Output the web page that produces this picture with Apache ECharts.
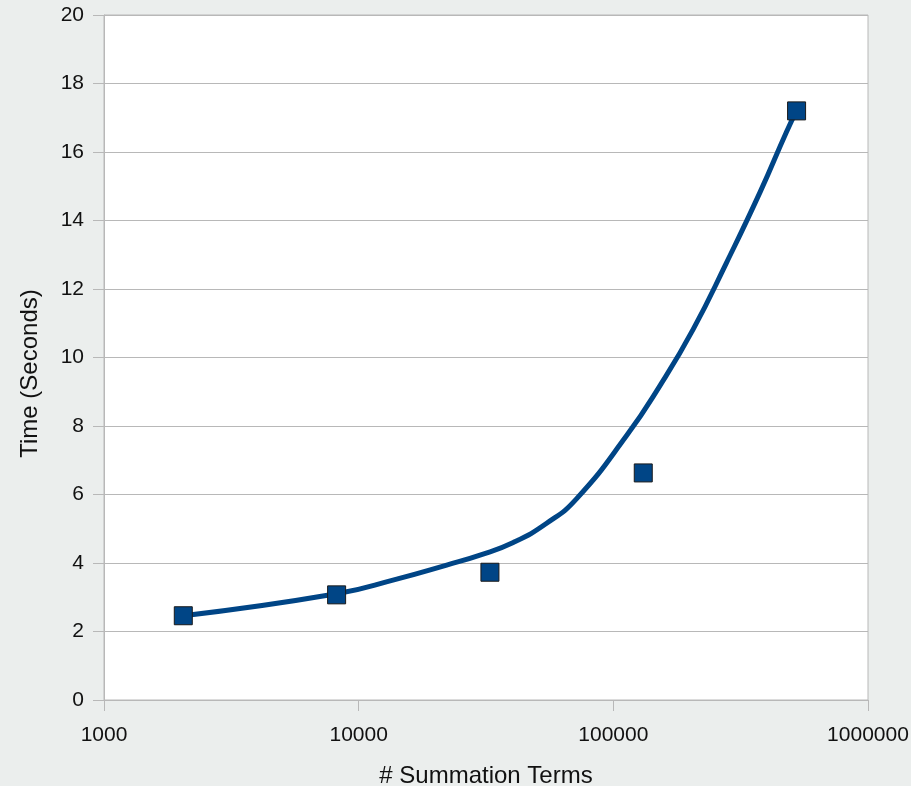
<!DOCTYPE html>
<html>
<head>
<meta charset="utf-8">
<title>Time vs summation terms</title>
<script src="https://cdn.jsdelivr.net/npm/echarts@6/dist/echarts.min.js"></script>
<style>
  html, body { margin: 0; padding: 0; background: #ebeeed; }
  #chart { width: 911px; height: 786px; }
</style>
</head>
<body>
<div id="chart"></div>
<script>
// measured points
var termCounts = [2048, 8192, 32768, 131072, 524288];
var timeSeconds = [2.46, 3.07, 3.73, 6.63, 17.2];

// trend line
var trendTerms = [2048, 8192, 14100, 22160, 29950, 40470, 54730, 71800, 112800, 152500, 206000, 278700, 376500, 479400, 524288];
var trendTimes = [2.46, 3.10, 3.53, 3.94, 4.23, 4.60, 5.16, 5.88, 7.72, 9.18, 10.83, 12.78, 14.82, 16.6, 17.2];

var yTicks = [0, 2, 4, 6, 8, 10, 12, 14, 16, 18, 20];

var chart = echarts.init(document.getElementById('chart'));

var fontName = '"Liberation Sans", Arial, sans-serif';
var greyLine = '#b8b8b8';

var option = {
  backgroundColor: '#ebeeed',
  animation: false,
  grid: {
    left: 104,
    right: 43,
    top: 15,
    bottom: 86,
    outerBoundsMode: 'none',
    show: true,
    backgroundColor: '#ffffff',
    borderColor: greyLine,
    borderWidth: 1
  },
  xAxis: {
    type: 'log',
    logBase: 10,
    min: 1000,
    max: 1000000,
    name: '# Summation Terms',
    nameLocation: 'middle',
    nameGap: 64,
    nameTextStyle: { fontFamily: fontName, fontSize: 24, color: '#111' },
    axisLine: { lineStyle: { color: greyLine } },
    axisTick: { length: 11, lineStyle: { color: greyLine } },
    axisLabel: {
      margin: 25,
      fontFamily: fontName,
      fontSize: 21,
      color: '#111',
      formatter: function (v) { return String(Math.round(v)); }
    },
    splitLine: { show: false }
  },
  yAxis: {
    type: 'value',
    min: yTicks[0],
    max: yTicks[yTicks.length - 1],
    interval: 2,
    name: 'Time (Seconds)',
    nameLocation: 'middle',
    nameGap: 62,
    nameTextStyle: { fontFamily: fontName, fontSize: 24, color: '#111', padding: [0, 32, 0, 0] },
    axisLine: { show: true, lineStyle: { color: greyLine } },
    axisTick: { show: true, length: 11, lineStyle: { color: greyLine } },
    axisLabel: { margin: 20, fontFamily: fontName, fontSize: 21, color: '#111' },
    splitLine: { lineStyle: { color: greyLine } }
  },
  series: [
    {
      name: 'trend',
      type: 'line',
      data: trendTerms.map(function (t, i) { return [t, trendTimes[i]]; }),
      smooth: 0.5,
      showSymbol: false,
      lineStyle: { color: '#004586', width: 5 },
      z: 2
    },
    {
      name: 'time',
      type: 'scatter',
      data: termCounts.map(function (t, i) { return [t, timeSeconds[i]]; }),
      symbol: 'rect',
      symbolSize: 18,
      itemStyle: { color: '#004586', opacity: 1, borderColor: '#1a1a1a', borderWidth: 1 },
      z: 3
    }
  ]
};

chart.setOption(option);
</script>
</body>
</html>
